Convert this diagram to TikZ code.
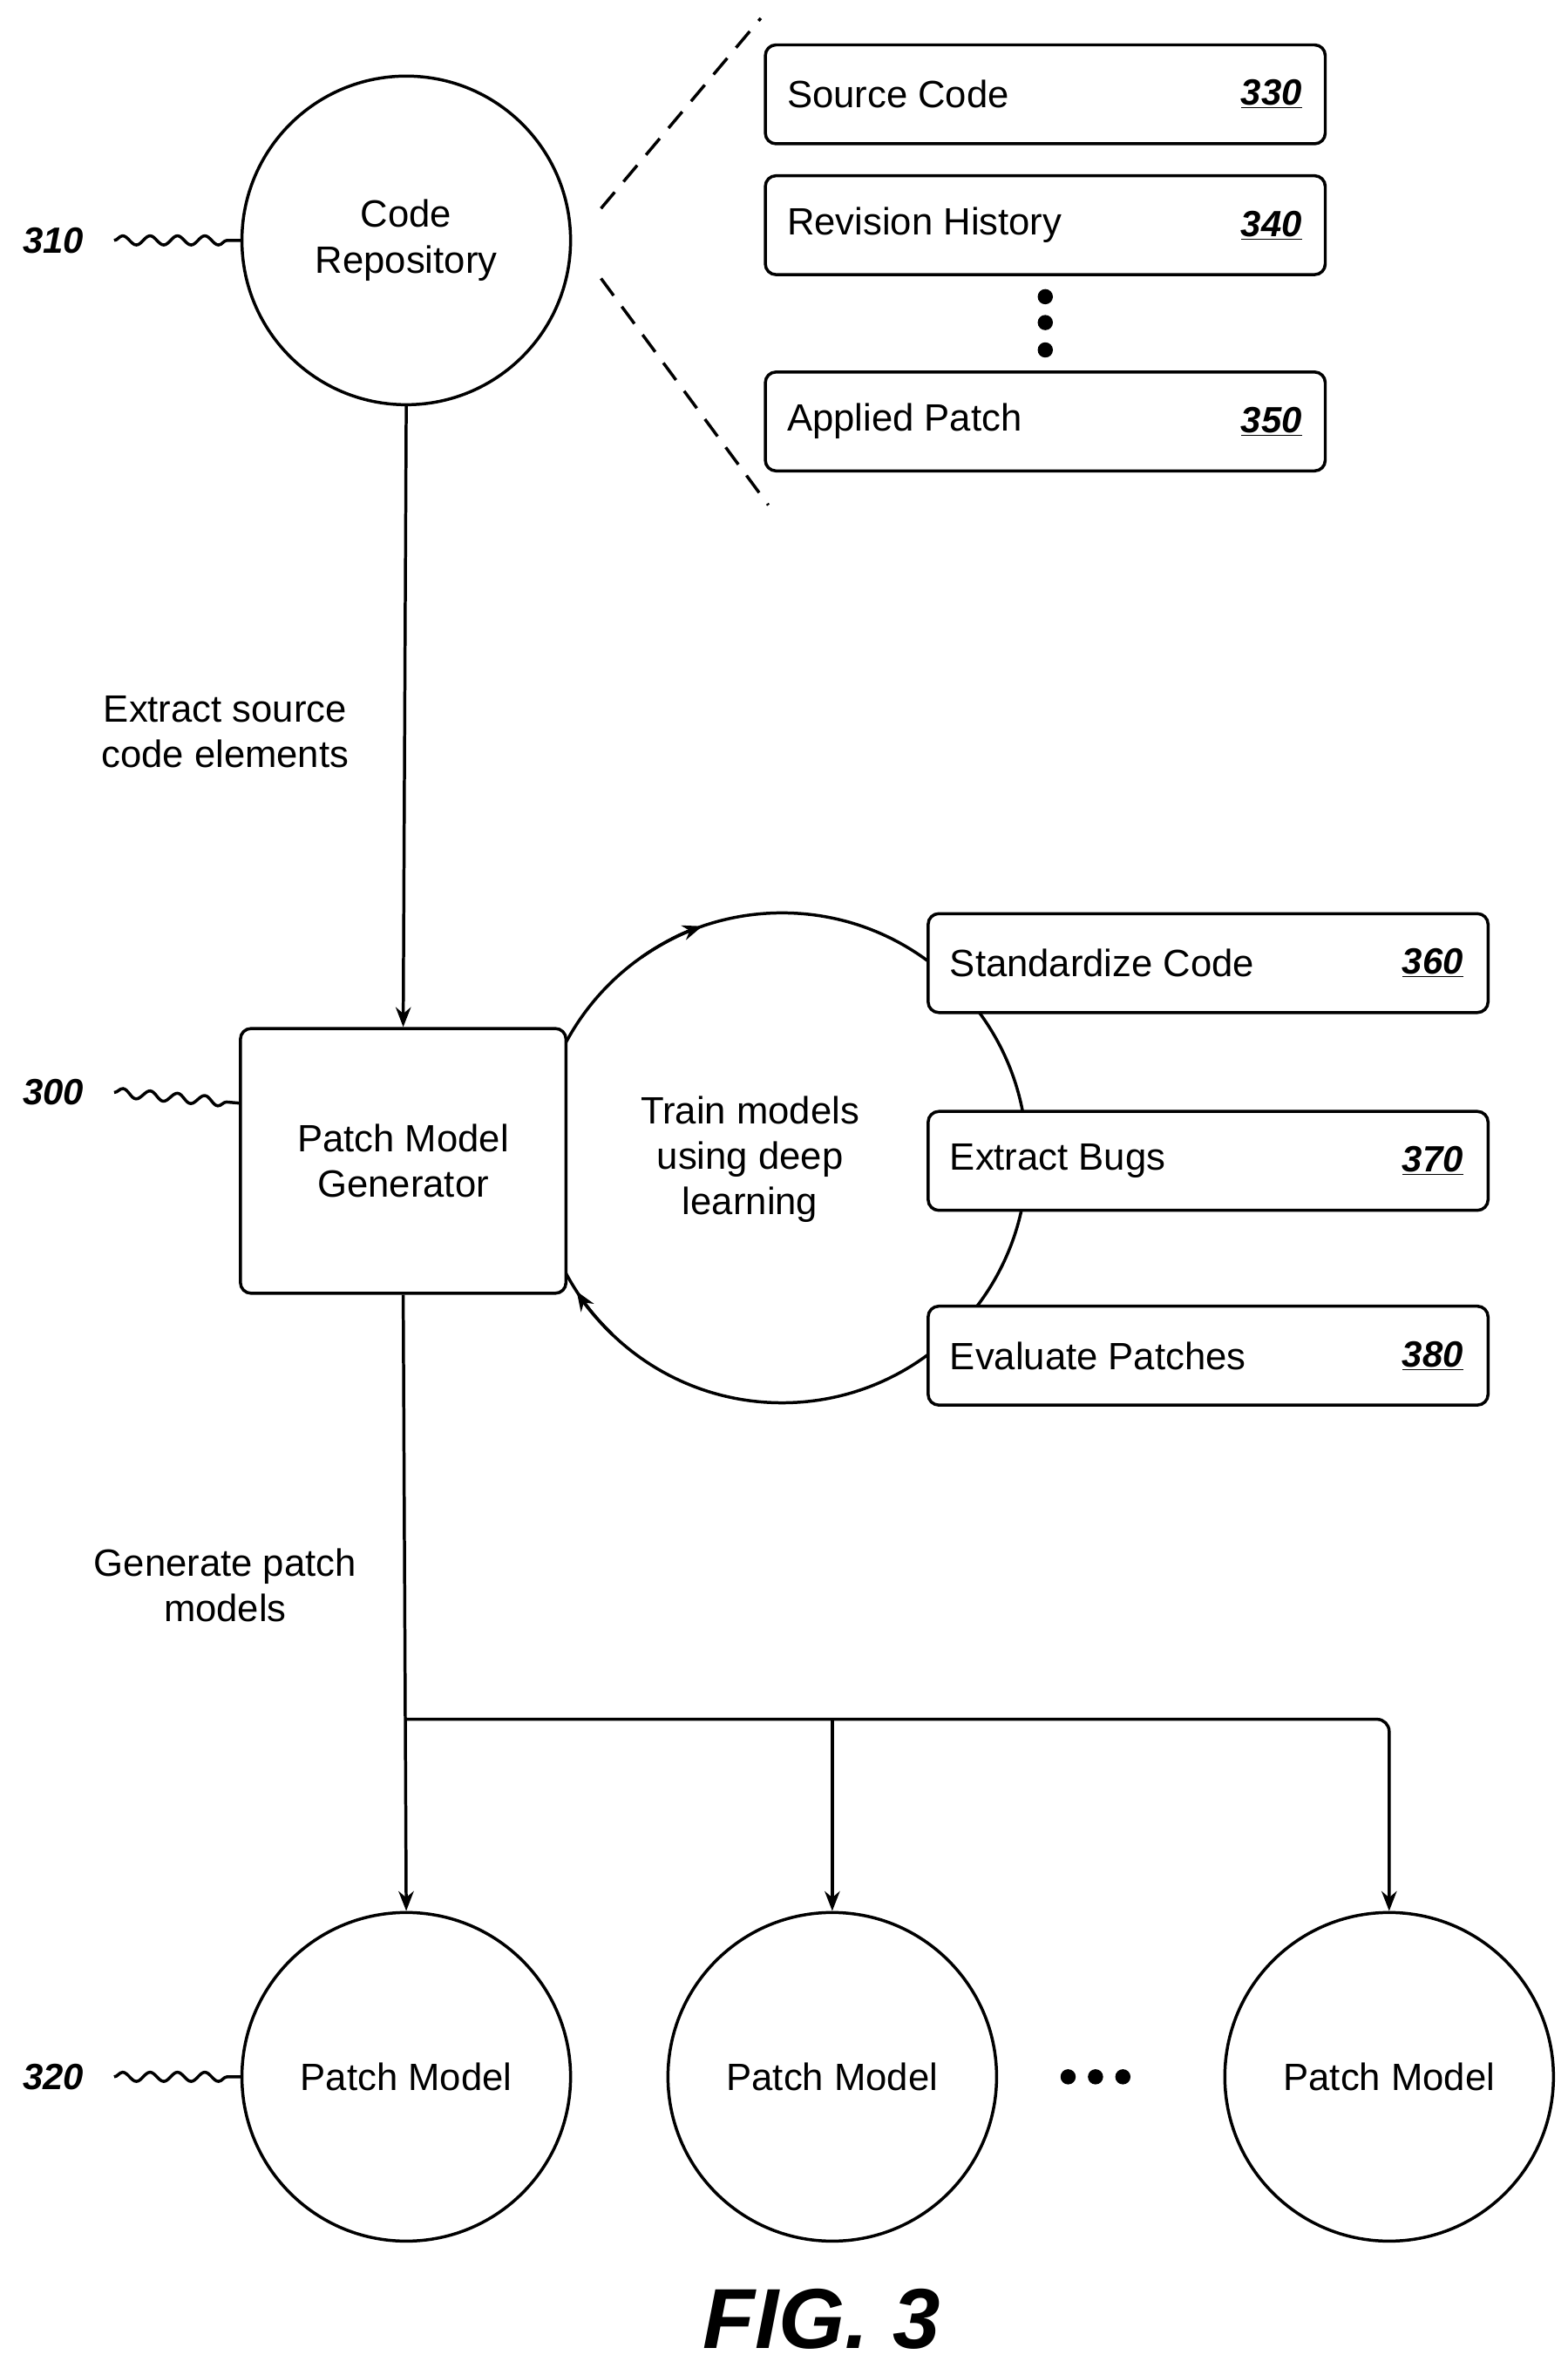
\documentclass[tikz,border=0pt]{standalone}
\usepackage{fontspec}
\setmainfont{Liberation Sans}
\usetikzlibrary{arrows.meta,decorations.pathmorphing,calc}
\begin{document}
\begin{tikzpicture}[x=1pt,y=-1pt,line width=2pt,
  txt/.style={font=\fontsize{25}{30}\selectfont,align=center},
  circ/.style={draw,circle,minimum size=216pt,inner sep=0pt,txt},
  box/.style={draw,rounded corners=7pt,minimum width=368pt,minimum height=65pt,fill=white,font=\fontsize{25}{30}\selectfont},
  num/.style={font=\fontsize{24}{28}\selectfont\bfseries\itshape},
  arr/.style={-{Stealth[length=13pt,width=10pt]}},
  sq/.style={decorate,decoration={snake,amplitude=3pt,segment length=18pt}}]
\useasboundingbox (0,0) rectangle (1030,1561);
\node[circ] (cr) at (267,158) {Code\\Repository};
\node[num] (n310) at (35,158) {310};
\draw[sq] (75,158) -- (cr.west);
\coordinate (d1a) at (395,137); \coordinate (d1b) at (500,12);
\coordinate (d2a) at (395,183); \coordinate (d2b) at (505,332);
\draw[dashed,dash pattern=on 14pt off 9pt] (d1a) -- (d1b) (d2a) -- (d2b);
\foreach \n/\t/\y/\k in {sc/Source Code/62/330,rh/Revision History/148/340,ap/Applied Patch/277/350}{
  \node[box] (\n) at (687,\y) {};
  \node[txt,anchor=west] at (513,\y) {\t};
  \node[num,anchor=east] at (860,\y) {\underline{\k}};}
\foreach \y in {195,212,230} \fill (687,\y) circle (5pt);
\node[draw,rounded corners=7pt,minimum width=214pt,minimum height=174pt,txt] (pmg) at (265,763) {Patch Model\\Generator};
\node[num] (n300) at (35,718) {300};
\draw[sq] (75,718) -- (pmg.west|-0,725);
\draw[arr] (cr.south) -- (pmg.north);
\node[txt] (t1) at (148,481) {Extract source\\code elements};
% loop circle
\coordinate (lc) at (514,761);
\begin{scope}
\clip (pmg.east|-0,0) rectangle (1030,1000);
\draw (lc) circle (161pt);
\end{scope}
\draw[arr] ($(lc)+(125:161pt)$) arc (125:109:161pt);
\draw[arr] ($(lc)+(226:161pt)$) arc (226:213:161pt);
\node[txt] (t2) at (493,762) {Train models\\using deep\\learning};
\foreach \n/\t/\y/\k in {s1/Standardize Code/633/360,s2/Extract Bugs/763/370,s3/Evaluate Patches/891/380}{
  \node[box] (\n) at (794,\y) {};
  \node[txt,anchor=west] at (620,\y) {\t};
  \node[num,anchor=east] at (966,\y) {\underline{\k}};}
% bottom
\node[circ] (p1) at (267,1365) {Patch Model};
\node[circ] (p2) at (547,1365) {Patch Model};
\node[circ] (p3) at (913,1365) {Patch Model};
\node[num] (n320) at (35,1365) {320};
\draw[sq] (75,1365) -- (p1.west);
\foreach \x in {702,720,738} \fill (\x,1365) circle (5pt);
\coordinate (br) at (267,1130);
\draw[arr] (pmg.south) -- (p1.north);
\draw[arr,rounded corners=8pt] (br) -- (p3.north|-br) -- (p3.north);
\draw[arr] (p2.north|-br) -- (p2.north);
\node[txt] (t3) at (148,1042) {Generate patch\\models};
\node[font=\fontsize{56}{58}\selectfont\bfseries\itshape] (fig) at (540,1524) {FIG. 3};
\end{tikzpicture}
\end{document}
